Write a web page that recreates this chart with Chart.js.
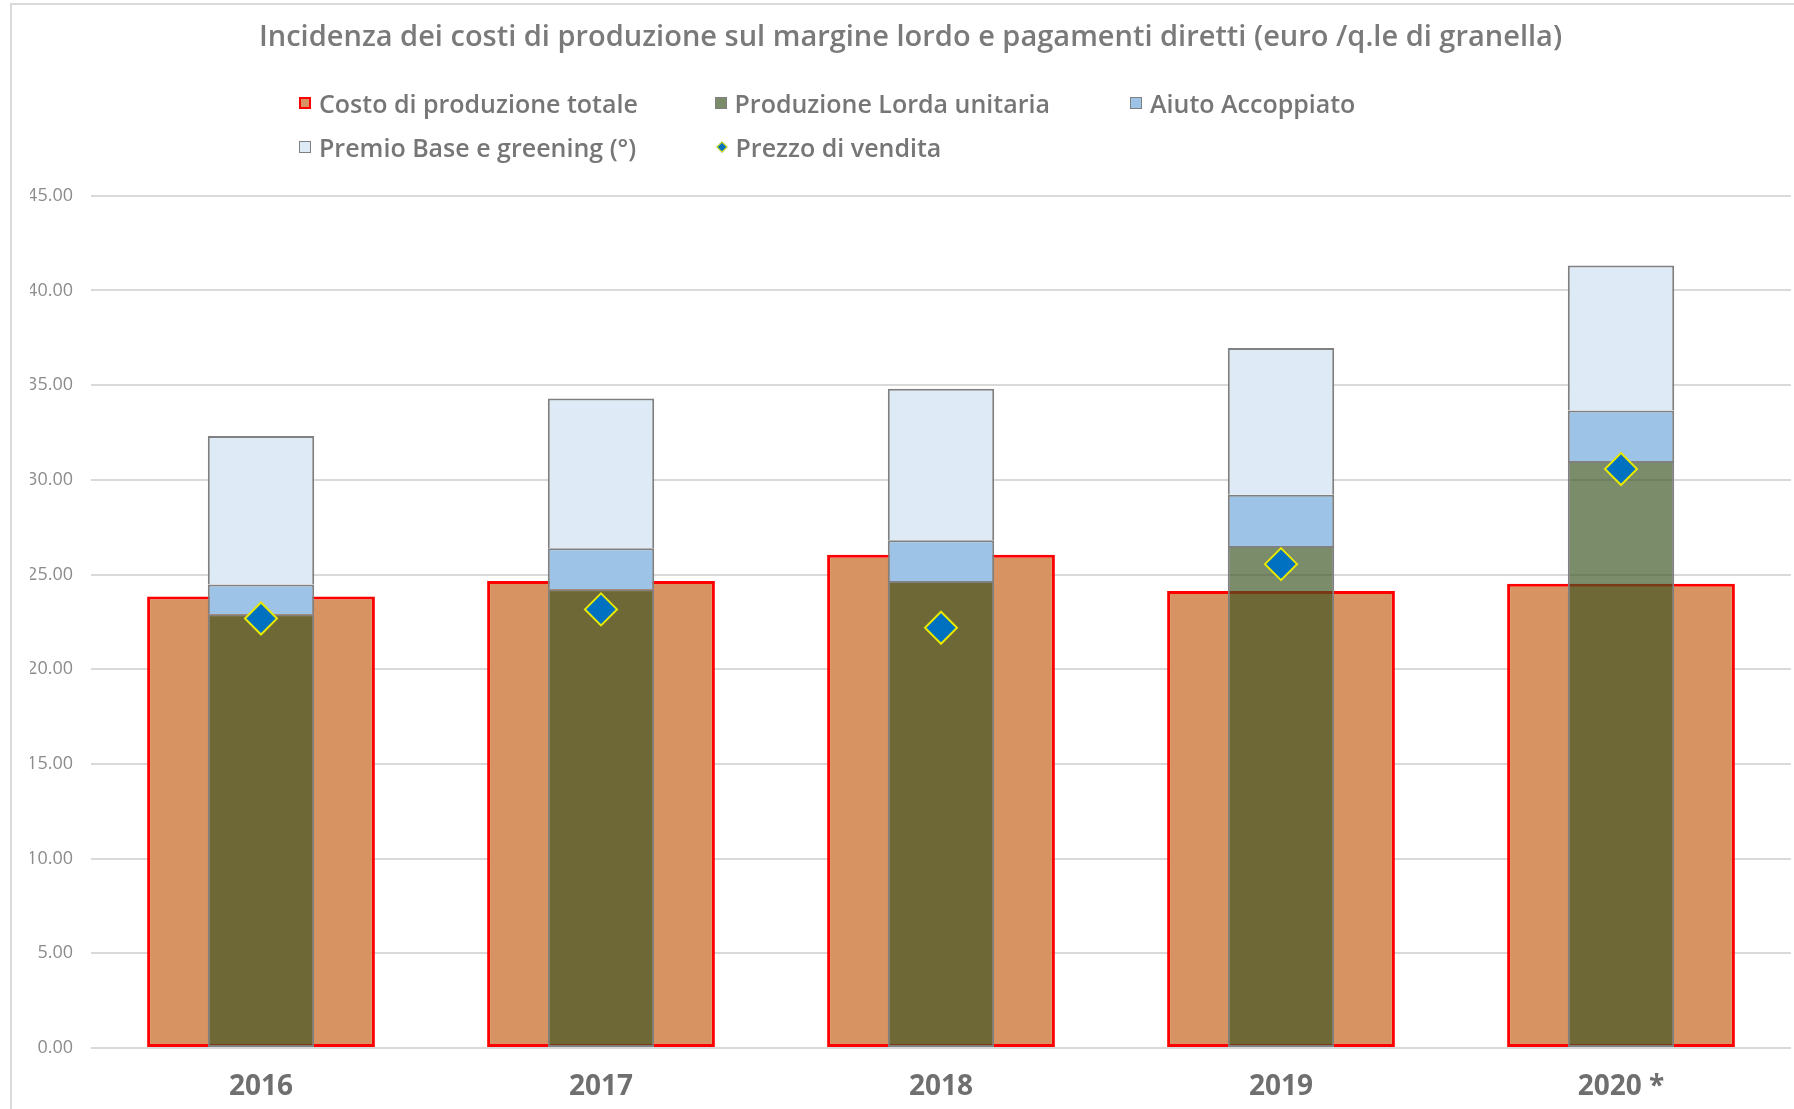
<!DOCTYPE html>
<html>
<head>
<meta charset="utf-8">
<script src="https://cdn.jsdelivr.net/npm/chart.js@4.4.1/dist/chart.umd.min.js"></script>
<style>
    body { margin: 0; background: #fff; font-family: 'Open Sans', sans-serif; }
    #wrap { position: relative; width: 1794px; height: 1109px; overflow: hidden; }
    #frame { position: absolute; left: 10px; top: 3px; right: -4px; bottom: -4px; border-left: 2px solid #d9d9d9; border-top: 2px solid #d9d9d9; }
    #chart { position: absolute; left: 0; top: 0; }
    #legend { position: absolute; left: 299px; top: 87px; width: 1300px; height: 80px; }
    .item { position: absolute; height: 32px; display: flex; align-items: center; font-size: 25px; font-weight: 600; color: #767676; white-space: nowrap; }
    .box { width: 12px; height: 12px; margin-right: 8px; box-sizing: border-box; }
    .diamond { width: 8px; height: 8px; margin: 0 10px 0 3px; transform: rotate(45deg); box-sizing: border-box; }
</style>
</head>
<body>
<div id="wrap">
    <div id="frame"></div>
    <canvas id="chart" width="1794" height="1109"></canvas>
    <div id="legend"></div>
</div>
<script>
// anni
var labels = ['2016', '2017', '2018', '2019', '2020 *']

// euro / q.le di granella
var costoProduzione = [23.84, 24.66, 26.04, 24.13, 24.51]
var produzioneLorda = [22.90, 24.23, 24.66, 26.51, 31.00]
var aiutoAccoppiato = [1.58, 2.16, 2.15, 2.70, 2.66]   // sopra la produzione lorda
var premioBase = [7.84, 7.91, 8.00, 7.75, 7.66]        // sopra l'aiuto
var prezzoVendita = [22.68, 23.16, 22.19, 25.55, 30.57]

var yTicks = [0, 5, 10, 15, 20, 25, 30, 35, 40, 45]

var chart = new Chart(document.getElementById('chart').getContext('2d'), {
    type: 'bar',
    data: {
        labels: labels,
        datasets: [{
            type: 'line',
            label: 'Prezzo di vendita',
            data: prezzoVendita,
            stack: 'prezzo',
            showLine: false,
            pointStyle: 'rectRot',
            pointRadius: 16,
            pointBackgroundColor: '#0070c0',
            pointBorderColor: '#e8e800',
            pointBorderWidth: 2,
            backgroundColor: '#0070c0',
            borderColor: '#e8e800',
            order: 0
        }, {
            label: 'Produzione Lorda unitaria',
            data: produzioneLorda,
            stack: 'prod',
            grouped: false,
            categoryPercentage: 1,
            barPercentage: 0.313,
            backgroundColor: 'rgba(56, 84, 32, 0.67)',
            borderColor: '#808080',
            borderWidth: 2,
            borderSkipped: false,
            order: 1
        }, {
            label: 'Aiuto Accoppiato',
            data: aiutoAccoppiato,
            stack: 'prod',
            grouped: false,
            categoryPercentage: 1,
            barPercentage: 0.313,
            backgroundColor: '#9dc3e6',
            borderColor: '#808080',
            borderWidth: 2,
            borderSkipped: 'bottom',
            order: 1
        }, {
            label: 'Premio Base e greening (°)',
            data: premioBase,
            stack: 'prod',
            grouped: false,
            categoryPercentage: 1,
            barPercentage: 0.313,
            backgroundColor: '#deebf7',
            borderColor: '#808080',
            borderWidth: 2,
            borderSkipped: 'bottom',
            order: 1
        }, {
            label: 'Costo di produzione totale',
            data: costoProduzione,
            stack: 'costo',
            grouped: false,
            categoryPercentage: 1,
            barPercentage: 0.67,
            backgroundColor: '#d79362',
            borderColor: '#ff0000',
            borderWidth: 3,
            borderSkipped: false,
            order: 2
        }]
    },
    options: {
        responsive: false,
        animation: false,
        // padding a sinistra per centrare il titolo come nell'originale
        layout: { autoPadding: false, padding: { left: 30, right: 3, top: 0, bottom: 0 } },
        plugins: {
            legend: { display: false },
            tooltip: { enabled: false },
            title: {
                display: true,
                text: 'Incidenza dei costi di produzione sul margine lordo e pagamenti diretti (euro /q.le di granella)',
                color: '#7a7a7a',
                font: { family: 'Open Sans', size: 29, weight: '600' },
                padding: { top: 20, bottom: 141 }
            }
        },
        scales: {
            x: {
                grid: { display: false },
                border: { display: false },
                ticks: {
                    padding: 14,
                    color: '#6f6f6f',
                    font: { family: 'Open Sans', size: 28, weight: 'bold' }
                },
                afterFit: function (scale) { scale.height = 61 }
            },
            y: {
                stacked: true,
                min: 0,
                max: 45,
                afterBuildTicks: function (scale) {
                    scale.ticks = yTicks.map(function (v) { return { value: v } })
                },
                afterFit: function (scale) { scale.width = 61 },
                border: { display: false },
                grid: { color: '#d9d9d9', lineWidth: 2, drawTicks: false },
                ticks: {
                    padding: 18,
                    color: '#8c8c8c',
                    font: { family: 'Open Sans', size: 18 },
                    callback: function (v) { return Number(v).toFixed(2) }
                }
            }
        }
    }
})

// legenda in html, tre colonne come nell'originale
var legendOrder = [4, 1, 2, 3, 0]
var legend = document.getElementById('legend')
legendOrder.forEach(function (di, i) {
    var ds = chart.data.datasets[di]
    var item = document.createElement('div')
    item.className = 'item'
    item.style.left = (i % 3) * 415.5 + 'px'
    item.style.top = Math.floor(i / 3) * 44 + 'px'
    var sw = document.createElement('span')
    if (ds.type === 'line') {
        sw.className = 'diamond'
        sw.style.background = ds.pointBackgroundColor
        sw.style.border = '1px solid ' + ds.pointBorderColor
    } else {
        sw.className = 'box'
        sw.style.background = ds.backgroundColor
        sw.style.border = (di === 4 ? 2 : 1) + 'px solid ' + ds.borderColor
    }
    item.appendChild(sw)
    item.appendChild(document.createTextNode(ds.label))
    legend.appendChild(item)
})
</script>
</body>
</html>
